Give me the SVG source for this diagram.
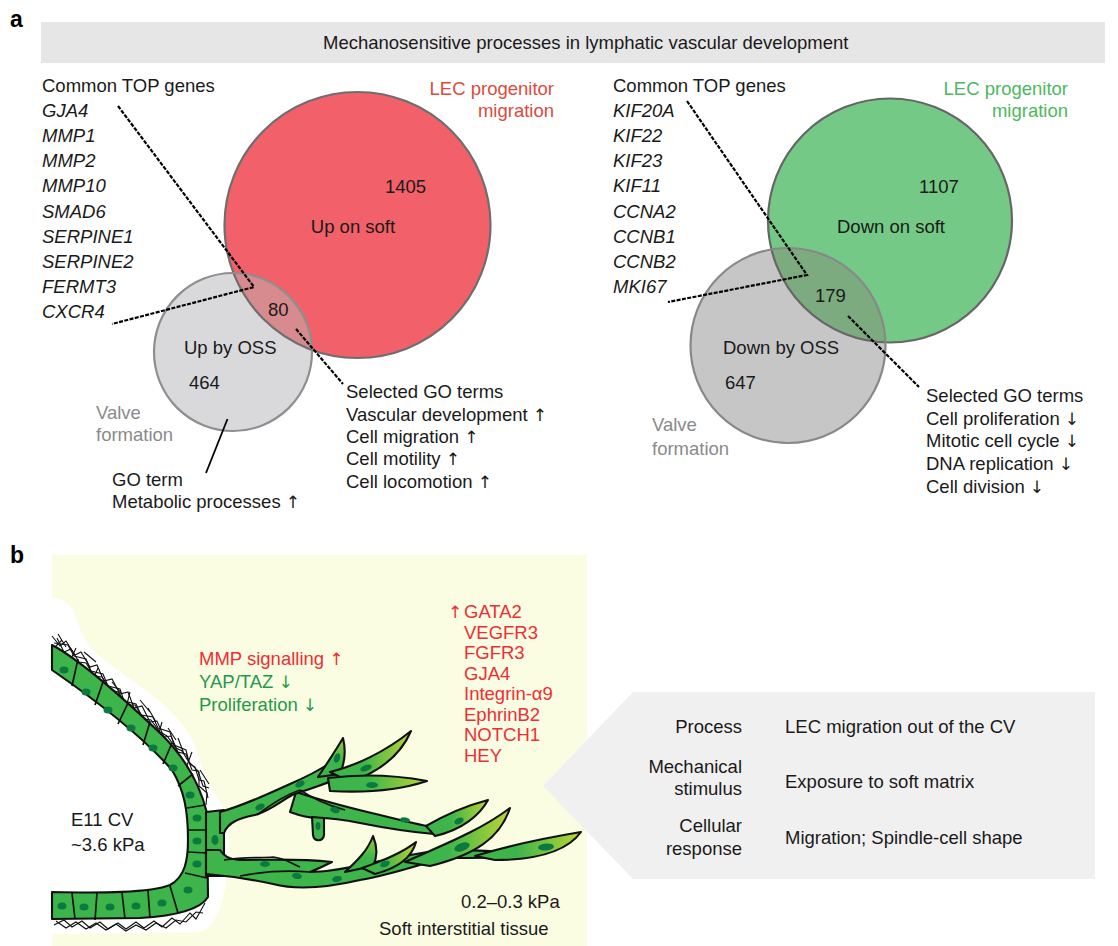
<svg xmlns="http://www.w3.org/2000/svg" width="1118" height="946" viewBox="0 0 1118 946">
<defs>
<style>
text{font-family:"Liberation Sans",Arial,sans-serif;font-size:18.5px;fill:#1a1a1a}
.ar{font-family:"DejaVu Sans",sans-serif;font-size:17px}
.it{font-style:italic}
.lbl{font-weight:bold;font-size:23px;fill:#000}
.lead{fill:none;stroke:#000;stroke-width:2.2;stroke-dasharray:4 1.4}
.red{fill:#EE2E36}
.grn{fill:#1E9A4B}
.lr{fill:#DD4A3C}
.lg{fill:#4CB85C}
.gy{fill:#8A8A8A}
.cell{fill:#3DB54A;stroke:#111;stroke-width:2.1;stroke-linejoin:round}
.leafR{fill:url(#gR);stroke:#111;stroke-width:2.1;stroke-linejoin:round}
.leafU{fill:url(#gU);stroke:#111;stroke-width:2.1;stroke-linejoin:round}
.nuc{fill:#0C7A3F}
.bd{fill:none;stroke:#111;stroke-width:1.7}
.fib{fill:none;stroke:#111;stroke-width:1.1}
</style>
<clipPath id="cl1"><circle cx="357.5" cy="225" r="133"/></clipPath>
<clipPath id="cl2"><circle cx="890" cy="220.5" r="122"/></clipPath>
<linearGradient id="gR" x1="0" y1="0" x2="1" y2="0"><stop offset="0.4" stop-color="#3DB54A"/><stop offset="1" stop-color="#BBD535"/></linearGradient>
<linearGradient id="gU" x1="0" y1="1" x2="0" y2="0"><stop offset="0.4" stop-color="#3DB54A"/><stop offset="1" stop-color="#9BCB3C"/></linearGradient>
</defs>
<rect width="1118" height="946" fill="#fff"/>

<!-- panel a -->
<g id="panel-a-header">
<text x="10" y="27" class="lbl">a</text>
<rect x="41" y="22" width="1064" height="41" fill="#E6E6E6"/>
<text x="323" y="49">Mechanosensitive processes in lymphatic vascular development</text>
</g>

<g id="venn-left">
<circle cx="357.5" cy="225" r="133" fill="#F26169"/>
<circle cx="233" cy="352" r="79" fill="#D9D9DB"/>
<circle cx="233" cy="352" r="79" fill="#D88B8F" clip-path="url(#cl1)"/>
<circle cx="357.5" cy="225" r="133" fill="none" stroke="#6E6E6E" stroke-width="2.2"/>
<circle cx="233" cy="352" r="79" fill="none" stroke="#8E8E8E" stroke-width="2.2"/>
<text x="353" y="233" text-anchor="middle">Up on soft</text>
<text x="385" y="193">1405</text>
<text x="268" y="316">80</text>
<text x="184" y="354">Up by OSS</text>
<text x="189" y="389">464</text>
<text x="554" y="95" text-anchor="end" class="lr">LEC progenitor</text>
<text x="554" y="117" text-anchor="end" class="lr">migration</text>
<text x="96" y="419" class="gy">Valve</text>
<text x="96" y="441" class="gy">formation</text>
</g>

<g id="genes-left">
<text x="42" y="92">Common TOP genes</text>
<text x="42" y="117" class="it">GJA4</text>
<text x="42" y="142" class="it">MMP1</text>
<text x="42" y="167" class="it">MMP2</text>
<text x="42" y="192" class="it">MMP10</text>
<text x="42" y="218" class="it">SMAD6</text>
<text x="42" y="243" class="it">SERPINE1</text>
<text x="42" y="268" class="it">SERPINE2</text>
<text x="42" y="293" class="it">FERMT3</text>
<text x="42" y="318" class="it">CXCR4</text>
</g>

<g id="go-left">
<text x="346" y="398">Selected GO terms</text>
<text x="346" y="421">Vascular development <tspan class="ar">↑</tspan></text>
<text x="346" y="443">Cell migration <tspan class="ar">↑</tspan></text>
<text x="346" y="465">Cell motility <tspan class="ar">↑</tspan></text>
<text x="346" y="488">Cell locomotion <tspan class="ar">↑</tspan></text>
<text x="112" y="486">GO term</text>
<text x="112" y="508">Metabolic processes <tspan class="ar">↑</tspan></text>
</g>

<g id="venn-right">
<circle cx="890" cy="220.5" r="122" fill="#73C985"/>
<circle cx="788" cy="345.5" r="97.5" fill="#C6C6C6"/>
<circle cx="788" cy="345.5" r="97.5" fill="#7DAB80" clip-path="url(#cl2)"/>
<circle cx="890" cy="220.5" r="122" fill="none" stroke="#666" stroke-width="2.2"/>
<circle cx="788" cy="345.5" r="97.5" fill="none" stroke="#888" stroke-width="2.2"/>
<text x="891" y="233" text-anchor="middle">Down on soft</text>
<text x="919" y="193">1107</text>
<text x="815" y="302">179</text>
<text x="723" y="354">Down by OSS</text>
<text x="725" y="389">647</text>
<text x="1068" y="95" text-anchor="end" class="lg">LEC progenitor</text>
<text x="1068" y="117" text-anchor="end" class="lg">migration</text>
<text x="652" y="431" class="gy">Valve</text>
<text x="652" y="455" class="gy">formation</text>
</g>

<g id="genes-right">
<text x="613" y="92">Common TOP genes</text>
<text x="613" y="117" class="it">KIF20A</text>
<text x="613" y="142" class="it">KIF22</text>
<text x="613" y="167" class="it">KIF23</text>
<text x="613" y="192" class="it">KIF11</text>
<text x="613" y="218" class="it">CCNA2</text>
<text x="613" y="243" class="it">CCNB1</text>
<text x="613" y="268" class="it">CCNB2</text>
<text x="613" y="293" class="it">MKI67</text>
</g>

<g id="go-right">
<text x="926" y="402">Selected GO terms</text>
<text x="926" y="425">Cell proliferation <tspan class="ar">↓</tspan></text>
<text x="926" y="447">Mitotic cell cycle <tspan class="ar">↓</tspan></text>
<text x="926" y="470">DNA replication <tspan class="ar">↓</tspan></text>
<text x="926" y="493">Cell division <tspan class="ar">↓</tspan></text>
</g>

<g id="connectors">
<polyline class="lead" points="118,106 254,287 112,324"/>
<line class="lead" x1="296" y1="329" x2="343" y2="384"/>
<line x1="227.5" y1="419" x2="206" y2="473" stroke="#000" stroke-width="1.8"/>
<polyline class="lead" points="687,101 807,275 668,302"/>
<line class="lead" x1="848" y1="316" x2="919" y2="387"/>
</g>

<!-- panel b -->
<g id="panel-b-scene">
<text x="10" y="563" class="lbl">b</text>
<rect x="52" y="555" width="535" height="391" fill="#FBFDE2"/>
<path d="M52,598 C62,598 72,604 76,617 C80,632 86,646 107,662 C118,671 132,680 152,695 C174,712 190,728 199,758 C204,775 214,790 224,810 C230,830 230,860 226,885 C222,905 216,925 202,932 L52,934 Z" fill="#fff"/>

<!-- fibers -->
<polyline class="fib" points="54,643 68,645 74,656 86,659 91,671 103,674 108,686 120,689 124,701 136,704 141,715 153,717 158,728 170,732 174,745 186,750 189,762 199,772 199,786 207,793 206,805"/>
<polyline class="fib" points="57,638 64,652 71,649 79,662 86,663 94,676 102,677 111,690 118,692 127,705 135,705 144,719 151,720 160,732 167,736 176,748 182,751 190,764 195,767 199,780 204,781 208,798"/>
<polyline class="fib" points="52,636 60,646 66,641 75,655 81,652 90,667 97,665 104,681 112,679 120,694 128,692 134,708 142,706 150,722 157,721 164,737 171,736 178,752 186,754 192,770 198,771 203,786 209,788"/>
<path class="fib" d="M58,634 L66,647 M76,648 L70,661 M98,668 L92,682 M112,682 L122,694 M130,692 L126,708 M148,708 L156,722 M162,722 L158,736 M178,738 L184,754 M192,752 L186,768 M200,770 L209,784 M52,650 L62,640 M84,652 L96,662 M140,700 L150,712 M168,728 L176,740"/>
<polyline class="fib" points="54,925 64,920 72,927 82,921 90,928 100,922 108,929 118,923 126,929 136,922 144,928 154,921 162,927 172,918 180,924 190,913 196,919 205,903"/>
<polyline class="fib" points="56,921 66,928 76,922 86,929 96,923 106,930 116,924 126,931 136,925 146,930 156,923 166,928 176,920 186,922 196,912 203,913"/>

<!-- vessel wall -->
<path class="cell" d="M52,645 C80,660 120,695 160,733 C185,757 200,785 207,813 L208,897 C200,910 175,916 140,918 L52,919 L52,892 C100,893 150,893 170,885 C185,877 188,860 188,840 C188,810 184,790 172,770 C150,745 110,710 52,670 Z"/>
<path class="bd" d="M72,686 L78,659 M95,705 L103,682 M118,724 L128,703 M143,745 L150,722 M163,764 L172,743 M178,786 L193,774 M187,808 L205,805 M188,830 L207,830 M188,852 L207,853 M185,873 L207,878 M170,886 L178,913 M148,891 L150,918 M122,893 L125,919 M97,893 L95,920 M72,893 L75,919"/>
<g class="nuc">
<ellipse cx="64" cy="670" rx="4.5" ry="3.5"/>
<ellipse cx="86" cy="692" rx="4.5" ry="3.5"/>
<ellipse cx="108" cy="710" rx="4.5" ry="3.5"/>
<ellipse cx="131" cy="728" rx="4.5" ry="3.5"/>
<ellipse cx="153" cy="748" rx="4.5" ry="3.5"/>
<ellipse cx="173" cy="768" rx="4.5" ry="3.5"/>
<ellipse cx="190" cy="795" rx="4.5" ry="3.5"/>
<ellipse cx="197" cy="818" rx="4.5" ry="3.5"/>
<ellipse cx="197" cy="841" rx="4.5" ry="3.5"/>
<ellipse cx="197" cy="864" rx="4.5" ry="3.5"/>
<ellipse cx="188" cy="890" rx="4.5" ry="3.5"/>
<ellipse cx="162" cy="903" rx="4.5" ry="3.5"/>
<ellipse cx="136" cy="906" rx="4.5" ry="3.5"/>
<ellipse cx="110" cy="907" rx="4.5" ry="3.5"/>
<ellipse cx="84" cy="907" rx="4.5" ry="3.5"/>
<ellipse cx="62" cy="906" rx="4.5" ry="3.5"/>
</g>

<!-- sprout -->
<path class="cell" d="M206,812 L224,810 L224,876 L206,876 Z"/>
<path class="cell" d="M220,850 C224,856 228,859 240,860 C265,860 295,858 332,862 C322,867 315,870 310,872 C335,872 355,866 375,862 C395,858 420,852 445,850 C470,849 500,852 530,853 L530,857 C500,858 470,858 445,858 C420,864 395,874 360,880 C330,887 300,891 273,884 C250,879 230,876 206,874 L206,850 Z"/>
<path class="cell" d="M296,792 C320,800 350,808 380,815 C400,820 420,825 432,827 L434,834 C410,832 385,828 360,823 C345,820 330,818 318,818 C308,818 298,815 290,812 Z"/>
<path class="cell" d="M312,817 L324,818 L324,835 C323,842 314,842 313,835 Z"/>
<path class="cell" d="M220,812 C245,805 268,794 290,784 C306,777 318,771 330,763 L343,776 C325,785 305,790 292,795 C280,802 268,812 255,815 C240,818 228,822 224,833 L220,833 Z"/>
<path class="leafU" d="M318,777 C328,762 336,750 343,738 C346,750 345,762 340,774 Z"/>
<path class="leafR" d="M330,772 C355,766 385,752 411,731 C402,752 385,770 350,782 Z"/>
<path class="leafR" d="M328,778 C360,774 395,775 427,781 C400,790 365,793 330,791 Z"/>
<path class="leafR" d="M426,826 C445,815 465,806 488,800 C480,815 462,830 435,836 Z"/>
<path class="leafU" d="M345,872 C358,860 368,850 373,836 C378,848 377,858 373,866 Z"/>
<path class="leafR" d="M362,868 C385,860 402,853 416,842 C412,857 398,868 375,874 Z"/>
<path class="leafR" d="M405,862 C440,846 478,832 510,808 C500,838 475,855 430,866 Z"/>
<path class="leafR" d="M475,856 C510,845 545,838 581,832 C568,850 540,860 495,860 Z"/>
<path class="bd" d="M257,815 C270,805 285,795 300,790 M224,860 C245,857 262,858 273,857 C285,858 292,864 300,867 M240,876 C260,872 285,870 310,872 M300,790 C315,800 330,806 345,810"/>
<g class="nuc">
<ellipse cx="215" cy="840" rx="3.5" ry="5"/>
<ellipse cx="260" cy="807" rx="5" ry="3" transform="rotate(-25 260 807)"/>
<ellipse cx="300" cy="784" rx="5" ry="3" transform="rotate(-25 300 784)"/>
<ellipse cx="337" cy="758" rx="3" ry="5" transform="rotate(20 337 758)"/>
<ellipse cx="366" cy="768" rx="6" ry="3" transform="rotate(-20 366 768)"/>
<ellipse cx="372" cy="785" rx="6" ry="3"/>
<ellipse cx="335" cy="810" rx="5" ry="3" transform="rotate(15 335 810)"/>
<ellipse cx="318" cy="826" rx="2.5" ry="4"/>
<ellipse cx="265" cy="864" rx="5" ry="3"/>
<ellipse cx="297" cy="876" rx="5" ry="3" transform="rotate(10 297 876)"/>
<ellipse cx="337" cy="879" rx="5" ry="3" transform="rotate(-10 337 879)"/>
<ellipse cx="385" cy="864" rx="5" ry="3" transform="rotate(-20 385 864)"/>
<ellipse cx="459" cy="821" rx="5" ry="3" transform="rotate(-25 459 821)"/>
<ellipse cx="462" cy="847" rx="8" ry="4" transform="rotate(-20 462 847)"/>
<ellipse cx="546" cy="847" rx="8" ry="3.5" transform="rotate(-5 546 847)"/>
<ellipse cx="405" cy="820" rx="5" ry="2.5" transform="rotate(10 405 820)"/>
</g>

<text x="71" y="826">E11 CV</text>
<text x="71" y="851">~3.6 kPa</text>
<text x="461" y="908">0.2–0.3 kPa</text>
<text x="379" y="935">Soft interstitial tissue</text>
<text x="199" y="665" class="red">MMP signalling <tspan class="ar">↑</tspan></text>
<text x="199" y="688" class="grn">YAP/TAZ <tspan class="ar">↓</tspan></text>
<text x="199" y="711" class="grn">Proliferation <tspan class="ar">↓</tspan></text>
<text x="448" y="618" class="red"><tspan class="ar">↑</tspan></text>
<text x="464" y="618" class="red">GATA2</text>
<text x="464" y="638.5" class="red">VEGFR3</text>
<text x="464" y="659" class="red">FGFR3</text>
<text x="464" y="679.5" class="red">GJA4</text>
<text x="464" y="700" class="red">Integrin-α9</text>
<text x="464" y="720.5" class="red">EphrinB2</text>
<text x="464" y="741" class="red">NOTCH1</text>
<text x="464" y="761.5" class="red">HEY</text>
</g>

<g id="info-box">
<polygon points="543,786 633,692 1095,692 1095,879 633,879" fill="#F0F0F0"/>
<text x="742" y="733" text-anchor="end">Process</text>
<text x="742" y="773" text-anchor="end">Mechanical</text>
<text x="742" y="795" text-anchor="end">stimulus</text>
<text x="742" y="832" text-anchor="end">Cellular</text>
<text x="742" y="855" text-anchor="end">response</text>
<text x="785" y="733">LEC migration out of the CV</text>
<text x="785" y="788">Exposure to soft matrix</text>
<text x="785" y="844">Migration; Spindle-cell shape</text>
</g>
</svg>
